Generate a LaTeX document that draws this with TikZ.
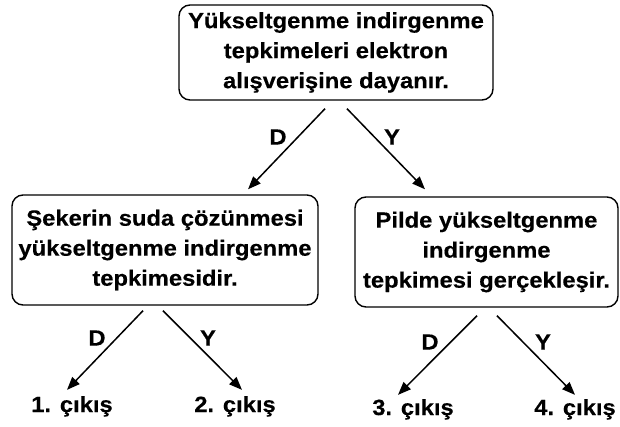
\documentclass[tikz,border=0pt]{standalone}
\usepackage{fontspec}
\setmainfont{Liberation Sans}[FakeStretch=1.08, BoldFeatures={FakeBold=0.4}]
\usetikzlibrary{arrows.meta}
\begin{document}
\begin{tikzpicture}[x=1pt, y=-1pt, font=\fontsize{22}{30}\selectfont\bfseries,
	kutu/.style={draw, line width=1.4pt, rounded corners=11pt, align=center, inner sep=0pt},
	ok/.style={line width=1.5pt, -{Triangle[length=13pt, width=10pt]}},
	cikis/.style={anchor=base, inner sep=2pt}]
	\useasboundingbox (0,0) rectangle (620,427);
	\node[kutu, minimum width=314pt, minimum height=95pt] (K1) at (336, 52.5) {Yükseltgenme indirgenme\\tepkimeleri elektron\\alışverişine dayanır.};
	\node[kutu, minimum width=306pt, minimum height=110pt] (K2) at (165, 250) {Şekerin suda çözünmesi\\yükseltgenme indirgenme\\tepkimesidir.};
	\node[kutu, minimum width=263pt, minimum height=110pt] (K3) at (486.5, 252) {Pilde yükseltgenme\\indirgenme\\tepkimesi gerçekleşir.};
	\node[cikis] (C1) at (72, 412) {1. çıkış};
	\node[cikis] (C2) at (235, 412) {2. çıkış};
	\node[cikis] (C3) at (413, 415) {3. çıkış};
	\node[cikis] (C4) at (575, 415) {4. çıkış};
	\node (D1) at (278, 137) {D};
	\node (Y1) at (392, 137) {Y};
	\node (D2) at (97, 338) {D};
	\node (Y2) at (208, 338) {Y};
	\node (D3) at (430, 342) {D};
	\node (Y3) at (543, 342) {Y};
	\draw[ok] ([xshift=-11pt, yshift=-8pt]K1.south) -- ([xshift=83pt, yshift=5pt]K2.north);
	\draw[ok] ([xshift=11pt, yshift=-8pt]K1.south) -- ([xshift=-61.5pt, yshift=7pt]K3.north);
	\draw[ok] ([xshift=-22pt, yshift=-5pt]K2.south) -- ([xshift=-5pt, yshift=4pt]C1.north);
	\draw[ok] ([xshift=-2pt, yshift=-5pt]K2.south) -- ([xshift=7pt, yshift=4pt]C2.north);
	\draw[ok] ([xshift=-9.5pt, yshift=-8pt]K3.south) -- ([xshift=-15pt, yshift=2pt]C3.north);
	\draw[ok] ([xshift=10.5pt, yshift=-8pt]K3.south) -- ([yshift=2pt]C4.north);
\end{tikzpicture}
\end{document}
